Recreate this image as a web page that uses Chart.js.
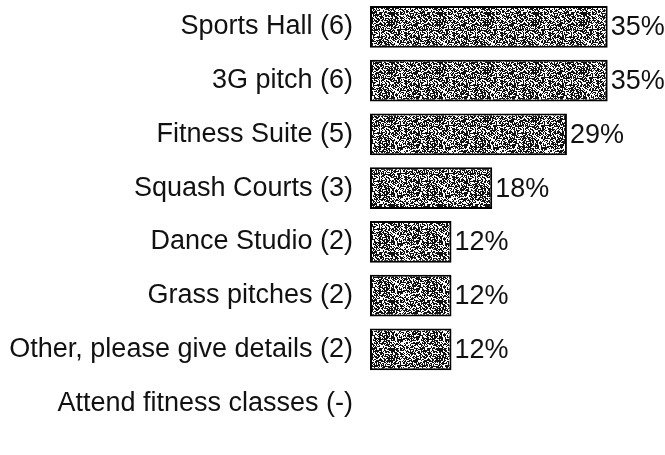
<!DOCTYPE html>
<html>
<head>
<meta charset="utf-8">
<script src="https://cdn.jsdelivr.net/npm/chart.js@4"></script>
<style>
  html, body { margin: 0; padding: 0; background: #fff; }
  #wrap { width: 665px; height: 455px; }
</style>
</head>
<body>
<div id="wrap"><canvas id="chart"></canvas></div>
<script>
const categories = [
    'Sports Hall (6)',
    '3G pitch (6)',
    'Fitness Suite (5)',
    'Squash Courts (3)',
    'Dance Studio (2)',
    'Grass pitches (2)',
    'Other, please give details (2)',
    'Attend fitness classes (-)'
];
const percentValues = [35, 35, 29, 18, 12, 12, 12, null];
const valueLabels = ['35%', '35%', '29%', '18%', '12%', '12%', '12%', ''];

// stippled fill like the scanned bars
function makeStipple() {
    const c = document.createElement('canvas');
    c.width = 48;
    c.height = 48;
    const g = c.getContext('2d');
    g.fillStyle = '#fff';
    g.fillRect(0, 0, 48, 48);
    g.fillStyle = '#111';
    for (let y = 0; y < 48; y++) {
        for (let x = 0; x < 48; x++) {
            const h = Math.sin(x * 12.9898 + y * 78.233) * 43758.5453;
            if (h - Math.floor(h) < 0.58) g.fillRect(x, y, 1, 1);
        }
    }
    return g.createPattern(c, 'repeat');
}

const valueLabelPlugin = {
    id: 'valueLabels',
    afterDatasetsDraw(chart) {
        const ctx = chart.ctx;
        const meta = chart.getDatasetMeta(0);
        ctx.save();
        ctx.font = '27px "Liberation Sans", Arial, sans-serif';
        ctx.fillStyle = '#111';
        ctx.textBaseline = 'middle';
        meta.data.forEach((bar, i) => {
            if (!valueLabels[i]) return;
            ctx.fillText(valueLabels[i], bar.x + 3, bar.y + 1);
        });
        ctx.restore();
    }
};

const chartCtx = document.getElementById('chart');

new Chart(chartCtx, {
    type: 'bar',
    data: {
        labels: categories,
        datasets: [{
            data: percentValues,
            backgroundColor: makeStipple(),
            borderColor: '#000',
            borderWidth: 2,
            borderSkipped: false,
            categoryPercentage: 1,
            barPercentage: 0.78
        }]
    },
    options: {
        indexAxis: 'y',
        responsive: true,
        maintainAspectRatio: false,
        animation: false,
        layout: { autoPadding: false, padding: { top: 0, right: 3, bottom: 25, left: 0 } },
        plugins: {
            legend: { display: false },
            tooltip: { enabled: false }
        },
        scales: {
            x: {
                min: 0,
                max: 43,
                display: false
            },
            y: {
                grid: { display: false },
                border: { display: false },
                afterFit(scale) {
                    scale.width = 370;
                    scale.paddingTop = 0;
                    scale.paddingBottom = 0;
                },
                ticks: {
                    color: '#111',
                    padding: 9,
                    font: { family: '"Liberation Sans", Arial, sans-serif', size: 27 }
                }
            }
        }
    },
    plugins: [valueLabelPlugin]
});
</script>
</body>
</html>
